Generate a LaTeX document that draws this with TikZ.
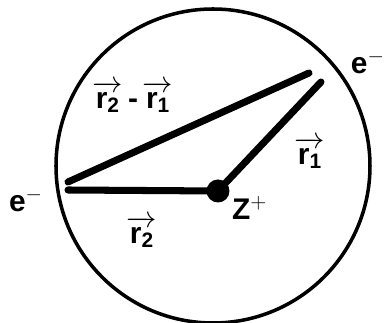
\documentclass[tikz,border=0pt]{standalone}
\usepackage{amsmath}
\usepackage{fontspec}
\setmainfont{Liberation Sans}
\usepackage{tikz}
\usetikzlibrary{positioning}

\newcommand{\vecr}[1]{$\overrightarrow{\text{r}_{\text{#1}}}$}

\begin{document}
\begin{tikzpicture}[
  x=0.02cm, y=-0.02cm,
  shell/.style={draw=black, line width=2pt},
  bond/.style={draw=black, line width=4pt, line cap=round},
  nucleus/.style={circle, fill=black, minimum size=0.46cm, inner sep=0pt},
  lbl/.style={font=\fontsize{17}{20}\selectfont\bfseries, inner sep=1pt},
]
  \useasboundingbox (0,0) rectangle (387,323);

  % atom shell
  \node[draw=none] (atom) at (213,166) {};
  \draw[shell] (atom.center) circle[radius=157];

  \node[nucleus] (Z) at (218,191) {};
  \coordinate (eL)    at (68,182);
  \coordinate (eLlow) at (68,190);
  \coordinate (eR)    at (309,73);
  \coordinate (r1tip) at (321,82);

  \draw[bond] (eL)    -- (eR);
  \draw[bond] (eLlow) -- (Z.center);
  \draw[bond] (Z.center) -- (r1tip);

  % labels
  \node[lbl] (elecL) at (26,200) {e$^-$};
  \node[lbl, anchor=east] (elecR) at (387,62) {e$^-$};
  \node[lbl, anchor=west] (charge) at (230,208) {Z$^+$};
  \node[lbl] (r2)   at (142,232) {\vecr{2}};
  \node[lbl] (r1)   at (310,153) {\vecr{1}};
  \node[lbl] (r21)  at (133,97)  {\vecr{2}\,-\,\vecr{1}};
\end{tikzpicture}
\end{document}
